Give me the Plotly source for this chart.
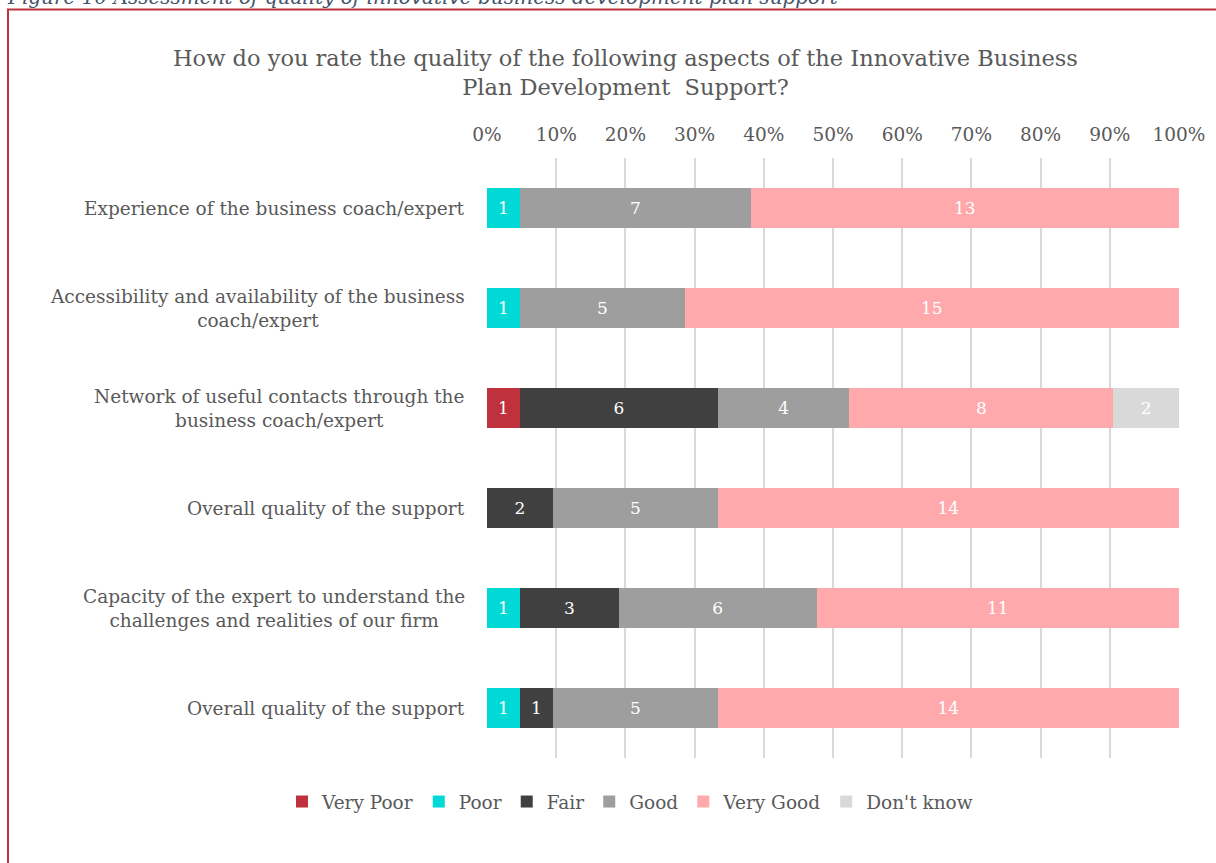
import plotly.graph_objects as go

# Survey items (top to bottom) and response counts per rating
aspects = [
    "Experience of the business coach/expert",
    "Accessibility and availability of the business<br>coach/expert",
    "Network of useful contacts through the<br>business coach/expert",
    "Overall quality of the support",
    "Capacity of the expert to understand the<br>challenges and realities of our firm",
    "Overall quality of the support",
]
ratings = ["Very Poor", "Poor", "Fair", "Good", "Very Good", "Don't know"]
very_poor = [0, 0, 1, 0, 0, 0]
poor = [1, 1, 0, 0, 1, 1]
fair = [0, 0, 6, 2, 3, 1]
good = [7, 5, 4, 5, 6, 5]
very_good = [13, 15, 8, 14, 11, 14]
dont_know = [0, 0, 2, 0, 0, 0]
colors = ["#C0313E", "#00D9D5", "#404040", "#9E9E9E", "#FFA9AC", "#D9D9D9"]
pct_ticks = [0, 10, 20, 30, 40, 50, 60, 70, 80, 90, 100]

series = [very_poor, poor, fair, good, very_good, dont_know]
rows = list(range(len(aspects)))

FONT = "DejaVu Serif"
GREY = "#595959"
W, H = 1216, 863
ML, MR, MT, MB = 487, 37, 158, 105
PW = W - ML - MR
PH = H - MT - MB

fig = go.Figure()
for name, vals, col in zip(ratings, series, colors):
    fig.add_trace(go.Bar(
        name=name,
        y=rows,
        x=vals,
        orientation="h",
        marker=dict(color=col, line=dict(width=0)),
        text=[str(v) if v else "" for v in vals],
        textposition="inside",
        insidetextanchor="middle",
        textangle=0,
        textfont=dict(family=FONT, size=17, color="white"),
        hoverinfo="name+x",
    ))

annotations = []
# Category labels, centred line by line to the left of the bars
for r, label in zip(rows, aspects):
    annotations.append(dict(
        x=-20 / PW, xref="paper", xanchor="right",
        y=r, yref="y", yanchor="middle",
        text=label, showarrow=False, align="center",
        font=dict(family=FONT, size=18.5, color=GREY),
    ))

# Chart title
annotations.append(dict(
    x=(625 - ML) / PW, xref="paper", xanchor="center",
    y=(MT + PH - 72) / PH, yref="paper", yanchor="middle",
    text="How do you rate the quality of the following aspects of the Innovative Business<br>Plan Development  Support?",
    showarrow=False, align="center",
    font=dict(family=FONT, size=22.5, color=GREY),
))

# Figure caption above the frame
annotations.append(dict(
    x=(6 - ML) / PW, xref="paper", xanchor="left",
    y=(MT + PH - 10) / PH, yref="paper", yanchor="bottom",
    text="<i>Figure 10 Assessment of quality of innovative business development plan support</i>",
    showarrow=False, borderpad=0,
    font=dict(family=FONT, size=20, color="#44546A"),
))

# Red frame around the chart
shapes = [dict(
    type="rect", xref="paper", yref="paper",
    x0=(8 - ML) / PW, x1=(1240 - ML) / PW,
    y0=(MT + PH - 900) / PH, y1=(MT + PH - 9.5) / PH,
    line=dict(color="#C0313E", width=2), fillcolor="rgba(0,0,0,0)",
    layer="below",
)]

fig.update_layout(
    width=W, height=H,
    barmode="stack", barnorm="percent", bargap=0.6,
    paper_bgcolor="white", plot_bgcolor="white",
    margin=dict(l=ML, r=MR, t=MT, b=MB),
    font=dict(family=FONT, color=GREY),
    xaxis=dict(
        side="top", range=[0, 100], tickvals=pct_ticks,
        ticktext=[f"{v}%" for v in pct_ticks],
        showgrid=True, gridcolor="#D9D9D9", gridwidth=1.5,
        zeroline=False, showline=False, ticks="",
        ticklabelstandoff=12,
        tickfont=dict(family=FONT, size=18.5, color=GREY),
        fixedrange=True,
    ),
    yaxis=dict(
        range=[5.5, -0.5], showticklabels=False, showgrid=False,
        zeroline=False, showline=False, ticks="", fixedrange=True,
    ),
    legend=dict(
        orientation="h", x=(630 - ML) / PW, xanchor="center",
        y=-(802 - MT - PH) / PH, yanchor="middle",
        font=dict(family=FONT, size=18.5, color=GREY),
        traceorder="normal", itemwidth=30,
    ),
    annotations=annotations,
    shapes=shapes,
    showlegend=True,
)

fig.write_html("out.html")
